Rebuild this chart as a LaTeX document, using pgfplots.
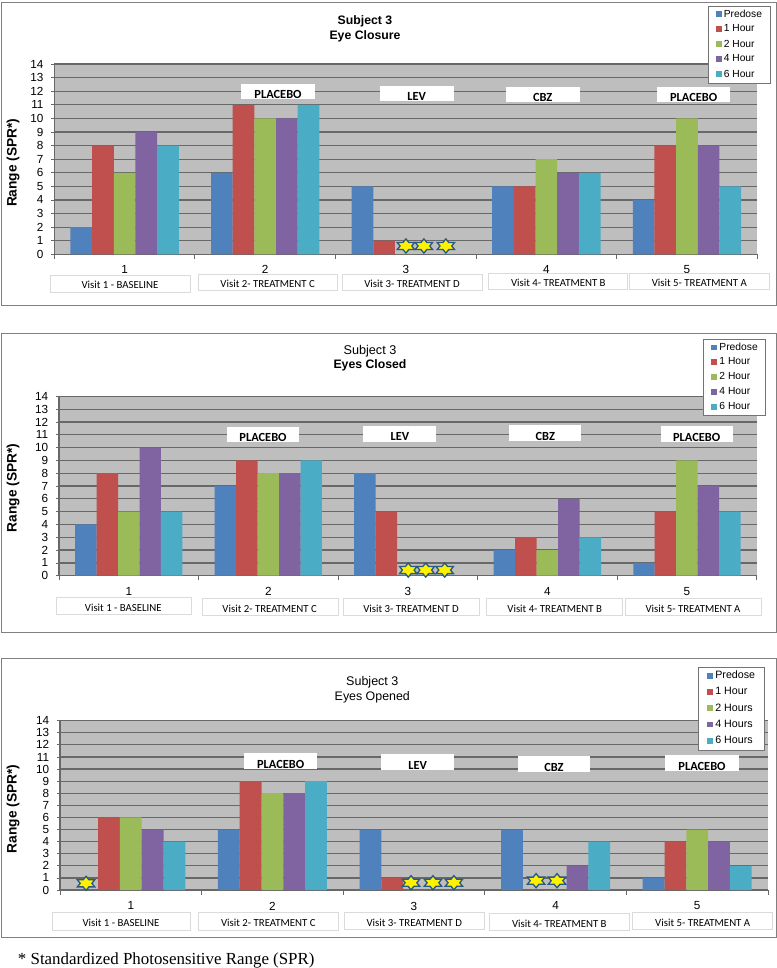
\documentclass[border=0pt]{standalone}
\usepackage{fontspec}
\setmainfont{Liberation Sans}
\newfontfamily\car{Carlito}
\newfontfamily\ser{Liberation Serif}
\usepackage{pgfplots}
\usepackage{pgfplotstable}
\pgfplotsset{compat=1.18}
\definecolor{cA}{HTML}{4F81BD}
\definecolor{cB}{HTML}{C0504D}
\definecolor{cC}{HTML}{9BBB59}
\definecolor{cD}{HTML}{8064A2}
\definecolor{cE}{HTML}{4BACC6}
\definecolor{bgG}{HTML}{BEBEBE}
\definecolor{grid}{HTML}{686868}
\definecolor{starb}{HTML}{2A5A80}
\pgfdeclareplotmark{star6}{%
  \pgfpathmoveto{\pgfpoint{0pt}{5.3pt}}%
  \pgfpathlineto{\pgfpoint{2.2pt}{2.65pt}}%
  \pgfpathlineto{\pgfpoint{6.5pt}{2.65pt}}%
  \pgfpathlineto{\pgfpoint{4.4pt}{0pt}}%
  \pgfpathlineto{\pgfpoint{6.5pt}{-2.65pt}}%
  \pgfpathlineto{\pgfpoint{2.2pt}{-2.65pt}}%
  \pgfpathlineto{\pgfpoint{0pt}{-5.3pt}}%
  \pgfpathlineto{\pgfpoint{-2.2pt}{-2.65pt}}%
  \pgfpathlineto{\pgfpoint{-6.5pt}{-2.65pt}}%
  \pgfpathlineto{\pgfpoint{-4.4pt}{0pt}}%
  \pgfpathlineto{\pgfpoint{-6.5pt}{2.65pt}}%
  \pgfpathlineto{\pgfpoint{-2.2pt}{2.65pt}}%
  \pgfpathclose
  \pgfusepathqfillstroke}
\pgfplotstableread{
cat pre h1 h2 h4 h6
1 2 8 6 9 8
2 6 11 10 10 11
3 5 1 0 0 0
4 5 5 7 6 6
5 4 8 10 8 5
}\closure
\pgfplotstableread{
cat pre h1 h2 h4 h6
1 4 8 5 10 5
2 7 9 8 8 9
3 8 5 0 0 0
4 2 3 2 6 3
5 1 5 9 7 5
}\closed
\pgfplotstableread{
cat pre h1 h2 h4 h6
1 0 6 6 5 4
2 5 9 8 8 9
3 5 1 0 0 0
4 5 0 0 2 4
5 1 4 5 4 2
}\opened
\pgfplotsset{
  panel/.style={
    scale only axis, anchor=south west, clip=false,
    xmin=0.5, xmax=5.5, ymin=0, ymax=14,
    ytick={0,1,...,14}, xtick={1,2,3,4,5},
    minor xtick={0.5,1.5,2.5,3.5,4.5,5.5},
    axis x line*=bottom, axis y line*=left,
    axis line style={-, draw=grid, line width=0.9pt},
    tick align=outside, major tick length=2.6pt, minor tick length=3.4pt,
    major x tick style={draw=none}, minor x tick style={draw=grid, line width=0.6pt},
    major y tick style={draw=grid, line width=0.6pt},
    ymajorgrids, grid style={draw=grid, line width=0.9pt},
    axis background/.style={fill=bgG},
    tick label style={font=\fontsize{8.8}{10}\selectfont},
    yticklabel style={xshift=-2pt},
    /pgf/number format/assume math mode=true,
    legend cell align=left,
  },
  b/.style={ybar, draw=none, fill=#1, bar width=\bw pt,
    legend image code/.code={\fill[fill=#1,draw=none] (-0.3pt,-2.1pt) rectangle (4.2pt,2.3pt);}},
  stars/.style={forget plot, only marks, mark=star6,
    mark options={draw=starb, fill=yellow, line width=1pt}},
}
\newcommand{\barsfrom}[1]{%
  \addplot[b=cA, bar shift={-2*\bw pt}] table[x=cat,y=pre]{#1};
  \addplot[b=cB, bar shift={-\bw pt}] table[x=cat,y=h1]{#1};
  \addplot[b=cC, bar shift=0pt] table[x=cat,y=h2]{#1};
  \addplot[b=cD, bar shift={\bw pt}] table[x=cat,y=h4]{#1};
  \addplot[b=cE, bar shift={2*\bw pt}] table[x=cat,y=h6]{#1};
}
\newcommand{\tagbox}[7]{%
  \fill[white] (#1,#3) rectangle (#2,#4);
  \node[inner sep=0pt, font=\car\bfseries\fontsize{9.3}{11}\selectfont] at (#5,#6) {#7};}
\newcommand{\visit}[7]{%
  \filldraw[fill=white, draw=black!14, line width=0.6pt] (#1,#3) rectangle (#2,#4);
  \node[inner sep=0pt, text=black, font=\car\fontsize{8.1}{10}\selectfont] at (#5,#6) {#7};}
\begin{document}
\begin{tikzpicture}
\begin{scope}[x=0.75pt,y=-0.75pt]
  \path[use as bounding box] (0,0) rectangle (777,968);
  \draw[draw=black!50, line width=0.7pt] (1,2) rectangle (776,305);
  \draw[draw=black!50, line width=0.7pt] (1,333) rectangle (776,632.3);
  \draw[draw=black!50, line width=0.7pt] (1,658) rectangle (776,937);
\end{scope}

% ---- panel 1
\def\bw{16.25}
\begin{axis}[panel, at={(40.72pt,-190.72pt)}, width=527.25pt, height=142.7pt,
  xticklabel style={yshift=-2.1pt},
  legend style={at={(1.0185,1.3064)}, anchor=north east, draw=black!55, fill=white,
    font=\fontsize{7.7}{9}\selectfont, inner xsep=6pt, inner ysep=0.7pt,
    nodes={inner sep=0pt, minimum height=11.25pt}, column sep=1.5pt}]
  \barsfrom{\closure}
  \addplot[stars] coordinates {(3.001,0.61) (3.129,0.61) (3.285,0.61)};
  \legend{Predose,1 Hour,2 Hour,4 Hour,6 Hour}
\end{axis}

% ---- panel 2
\def\bw{16.1}
\begin{axis}[panel, at={(44.25pt,-431.78pt)}, width=523.27pt, height=134.55pt,
  xticklabel style={yshift=-2.6pt},
  legend style={at={(1.0133,1.3177)}, anchor=north east, draw=black!55, fill=white,
    font=\fontsize{7.7}{9}\selectfont, inner xsep=6pt, inner ysep=0.5pt,
    nodes={inner sep=0pt, minimum height=11.1pt}, column sep=1.5pt}]
  \barsfrom{\closed}
  \addplot[stars] coordinates {(3.003,0.44) (3.128,0.44) (3.264,0.44)};
  \legend{Predose,1 Hour,2 Hour,4 Hour,6 Hour}
\end{axis}

% ---- panel 3
\def\bw{16.35}
\begin{axis}[panel, at={(45pt,-667.5pt)}, width=531pt, height=127pt,
  xticklabel style={yshift=-2.8pt},
  legend style={at={(0.9953,1.319)}, anchor=north east, draw=black!55, fill=white,
    font=\fontsize{8}{9}\selectfont, inner xsep=7pt, inner ysep=0.6pt,
    nodes={inner sep=0pt, minimum height=12.2pt}, column sep=1.5pt}]
  \barsfrom{\opened}
  \addplot[stars] coordinates {(0.684,0.55) (2.979,0.60) (3.134,0.60) (3.282,0.60) (3.862,0.77) (4.010,0.77)};
  \legend{Predose,1 Hour,2 Hours,4 Hours,6 Hours}
\end{axis}

\begin{scope}[x=0.75pt,y=-0.75pt]
  % titles
  \node[anchor=base, inner sep=0pt, font=\bfseries\fontsize{9.2}{11}\selectfont] at (365,24.7) {Subject 3};
  \node[anchor=base, inner sep=0pt, font=\bfseries\fontsize{9.2}{11}\selectfont] at (365,39.3) {Eye Closure};
  \node[anchor=base, inner sep=0pt, font=\fontsize{9.5}{11}\selectfont] at (370,354.3) {Subject 3};
  \node[anchor=base, inner sep=0pt, font=\bfseries\fontsize{9.2}{11}\selectfont] at (370,368.7) {Eyes Closed};
  \node[anchor=base, inner sep=0pt, font=\fontsize{9.4}{11}\selectfont] at (372.3,685) {Subject 3};
  \node[anchor=base, inner sep=0pt, font=\fontsize{9.3}{11}\selectfont] at (372.3,700) {Eyes Opened};
  % y labels
  \foreach \yy in {162.7,488,809}
    \node[inner sep=0pt, rotate=90, font=\bfseries\fontsize{10.3}{12}\selectfont] at (13,\yy) {Range (SPR*)};
  % panel 1 tags
  \tagbox{241}{315}{83.7}{99.3}{278}{94.7}{PLACEBO}
  \tagbox{379.7}{453.7}{86}{101.3}{416.7}{96.7}{LEV}
  \tagbox{506.3}{579.7}{87.3}{102.3}{542.7}{97.7}{CBZ}
  \tagbox{657}{730.3}{87.3}{102.3}{693.7}{97.7}{PLACEBO}
  \visit{50.3}{190.3}{275}{292.3}{120}{285}{Visit 1 - BASELINE}
  \visit{198}{337.7}{274}{290.7}{267.7}{284}{Visit 2- TREATMENT C}
  \visit{342}{482.7}{274}{290.7}{412}{284}{Visit 3- TREATMENT D}
  \visit{488.3}{627.7}{273.3}{289.3}{558.3}{283}{Visit 4- TREATMENT B}
  \visit{629.3}{769.3}{273.3}{289.3}{699.3}{283}{Visit 5- TREATMENT A}
  % panel 2 tags
  \tagbox{227}{299}{427}{442.3}{263}{437.7}{PLACEBO}
  \tagbox{363.3}{436.3}{426.3}{441.7}{400}{436.7}{LEV}
  \tagbox{509.3}{581.3}{425}{440.7}{545.3}{436}{CBZ}
  \tagbox{660.7}{733}{426}{441.7}{696.7}{437}{PLACEBO}
  \visit{56.3}{191.3}{597.7}{614.3}{123.3}{608}{Visit 1 - BASELINE}
  \visit{202}{338.7}{598.3}{615}{269.7}{609}{Visit 2- TREATMENT C}
  \visit{343.3}{479.3}{598.3}{615}{411}{609}{Visit 3- TREATMENT D}
  \visit{486.3}{622.7}{598.3}{615}{554.7}{609}{Visit 4- TREATMENT B}
  \visit{625}{761.3}{598.3}{615}{693}{609}{Visit 5- TREATMENT A}
  % panel 3 tags
  \tagbox{244.3}{316.7}{753}{768.7}{280.7}{764.3}{PLACEBO}
  \tagbox{381.3}{453.7}{754.3}{770}{417.7}{765.3}{LEV}
  \tagbox{517.7}{590.3}{756.3}{772}{554}{767.3}{CBZ}
  \tagbox{665.3}{738.7}{755.3}{771}{702}{766}{PLACEBO}
  \visit{52.3}{190.3}{912.3}{930.3}{121}{922.7}{Visit 1 - BASELINE}
  \visit{198.3}{338.3}{912.3}{930}{268.3}{922.7}{Visit 2- TREATMENT C}
  \visit{344}{484.7}{912.3}{929.7}{414.3}{922.7}{Visit 3- TREATMENT D}
  \visit{489.3}{629.7}{913.7}{930.7}{559.3}{923.7}{Visit 4- TREATMENT B}
  \visit{632}{772.7}{912.3}{929.3}{702.7}{922.7}{Visit 5- TREATMENT A}
  % footnote
  \node[anchor=base west, inner sep=0pt, font=\ser\fontsize{12.67}{15}\selectfont] at (17.7,964) {* Standardized Photosensitive Range (SPR)};
\end{scope}
\end{tikzpicture}
\end{document}
